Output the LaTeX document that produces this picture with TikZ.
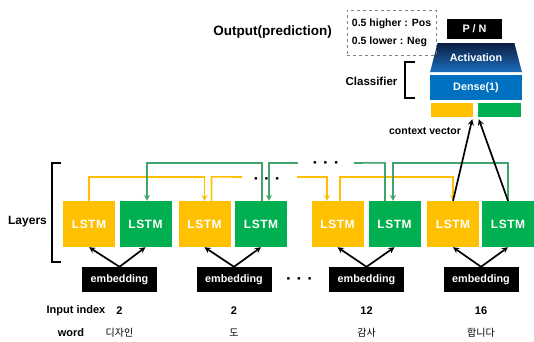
\documentclass[tikz,border=0pt]{standalone}
\usepackage{fontspec}
\setmainfont{Liberation Sans}
\newfontfamily\krfont{Noto Sans CJK KR}
\usetikzlibrary{arrows,shapes.geometric}
\definecolor{lstmyellow}{HTML}{FFC000}
\definecolor{lstmgreen}{HTML}{00B050}
\definecolor{linegreen}{HTML}{3FA56C}
\definecolor{denseblue}{HTML}{0070C0}
\definecolor{actnavy}{HTML}{0C1E40}
\definecolor{actblue}{HTML}{1C6DBE}

\begin{document}
\begin{tikzpicture}[x=1pt,y=-1pt,
        fwbox/.style={fill=lstmyellow,text=white,font=\fontsize{12}{13}\selectfont\bfseries\addfontfeature{LetterSpace=4},minimum width=52pt,minimum height=46pt,inner sep=0pt},
        bwbox/.style={fwbox,fill=lstmgreen},
        embbox/.style={fill=black,text=white,font=\fontsize{10.8}{12}\selectfont\bfseries,minimum width=75pt,minimum height=25pt,inner sep=0pt},
        clsbox/.style={text=white,font=\fontsize{10.8}{12}\selectfont\bfseries,minimum width=92pt,inner sep=0pt},
        fwline/.style={lstmyellow,line width=1.6pt},
        bwline/.style={linegreen,line width=1.6pt},
        inarrow/.style={black,line width=1.7pt,-stealth},
        lbl/.style={font=\fontsize{11}{13}\selectfont\bfseries},
        word/.style={font=\krfont\fontsize{10}{12}\selectfont},
        bracket/.style={line width=1.8pt},
        dots/.style={font=\fontsize{17}{17}\selectfont\bfseries}]
                \useasboundingbox (0,0) rectangle (534,341);
                \node[fwbox] (fw1) at (89,224) {LSTM};
                \node[bwbox] (bw1) at (145.5,224) {LSTM};
                \node[fwbox] (fw2) at (204.5,224) {LSTM};
                \node[bwbox] (bw2) at (261,224) {LSTM};
                \node[fwbox] (fw3) at (337.5,224) {LSTM};
                \node[bwbox] (bw3) at (394.5,224) {LSTM};
                \node[fwbox] (fw4) at (453,224) {LSTM};
                \node[bwbox] (bw4) at (508,224) {LSTM};
                \node[embbox] (emb1) at (119.5,279.5) {embedding};
                \node[embbox] (emb2) at (234,279.5) {embedding};
                \node[embbox] (emb3) at (366.5,279.5) {embedding};
                \node[embbox] (emb4) at (481,279.5) {embedding};
                \draw[inarrow] (emb1.north) -- (fw1.south);
                \draw[inarrow] (emb1.north) -- (bw1.south);
                \draw[inarrow] (emb2.north) -- (fw2.south);
                \draw[inarrow] (emb2.north) -- (bw2.south);
                \draw[inarrow] (emb3.north) -- (fw3.south);
                \draw[inarrow] (emb3.north) -- (bw3.south);
                \draw[inarrow] (emb4.north) -- (fw4.south);
                \draw[inarrow] (emb4.north) -- (bw4.south);
                \coordinate (fwcut1) at (242,177);
                \coordinate (fwcut2) at (297,177);
                \coordinate (bwcut1) at (298,163);
                \coordinate (bwcut2) at (354,163);
                \draw[fwline,-stealth] (fw1.north) -- ++(0,-24) -| (fw2.north);
                \draw[fwline] ([xshift=7pt]fw2.north) -- ++(0,-24) -- (fwcut1);
                \draw[fwline,-stealth] (fwcut2) -| ([xshift=-10.5pt]fw3.north);
                \draw[fwline,-stealth] ([xshift=2.5pt]fw3.north) -- ++(0,-24) -| (fw4.north);
                \draw[bwline,-stealth] (bw4.north) -- ++(0,-38) -| ([xshift=-1.5pt]bw3.north);
                \draw[bwline] ([xshift=-9.5pt]bw3.north) -- ++(0,-38) -- (bwcut2);
                \draw[bwline,-stealth] (bwcut1) -| ([xshift=8pt]bw2.north);
                \draw[bwline,-stealth] ([xshift=1pt]bw2.north) -- ++(0,-38) -| ([xshift=1.5pt]bw1.north);
                \node[dots] (dots1) at (267,181) {·\hspace{5pt}·\hspace{5pt}·};
                \node[dots] (dots2) at (326,165) {·\hspace{5pt}·\hspace{5pt}·};
                \node[dots] (dots3) at (299.5,281) {·\hspace{5pt}·\hspace{5pt}·};
                \node[clsbox,fill=black,minimum width=55pt,minimum height=20pt] (pn) at (474.5,29) {P / N};
                \node[clsbox,trapezium,trapezium stretches=true,trapezium angle=56.8,minimum height=29pt,top color=actnavy,bottom color=actblue,text depth=-1.5pt] (act) at (476,57.5) {Activation};
                \node[clsbox,fill=denseblue,minimum height=25pt] (dense) at (476,87.5) {Dense(1)};
                \node[fill=lstmyellow,minimum width=42pt,minimum height=14pt,inner sep=0pt] (ctxf) at (452,110) {};
                \node[fill=lstmgreen,minimum width=43pt,minimum height=14pt,inner sep=0pt] (ctxb) at (499.5,110) {};
                \draw[inarrow] (fw4.north) -- ([xshift=-1pt,yshift=-2pt]ctxf.south east);
                \draw[inarrow] (bw4.north) -- ([xshift=1pt,yshift=-2pt]ctxb.south west);
                \node[font=\fontsize{10.5}{12}\selectfont\bfseries] (ctx) at (425,131) {context vector};
                \node[font=\fontsize{11.5}{13}\selectfont\bfseries] (cls) at (371.5,81) {Classifier};
                \draw[bracket] (415,62) -- (405,62) -- (405,98) -- (415,98);
                \node[font=\fontsize{13.5}{15}\selectfont\bfseries] (out) at (272.5,32) {Output(prediction)};
                \node[draw=gray,dashed,line width=1pt,minimum width=89pt,minimum height=45pt,align=left,font=\fontsize{10.5}{18}\selectfont\bfseries] (rule) at (391.5,32.5) {0.5 higher : Pos\\0.5 lower : Neg};
                \node[font=\fontsize{12}{14}\selectfont\bfseries] (layers) at (27.5,222) {Layers};
                \draw[bracket] (61,163) -- (52,163) -- (52,262) -- (61,262);
                \node[lbl] (idxlbl) at (76,311) {Input index};
                \node[lbl] (idx1) at (119.5,311) {2};
                \node[lbl] (idx2) at (234,311) {2};
                \node[lbl] (idx3) at (366.5,311) {12};
                \node[lbl] (idx4) at (481,311) {16};
                \node[lbl] (wordlbl) at (71,333) {word};
                \node[word] (w1) at (119.5,333) {디자인};
                \node[word] (w2) at (234,333) {도};
                \node[word] (w3) at (366.5,333) {감사};
                \node[word] (w4) at (481,333) {합니다};
            \end{tikzpicture}
\end{document}
